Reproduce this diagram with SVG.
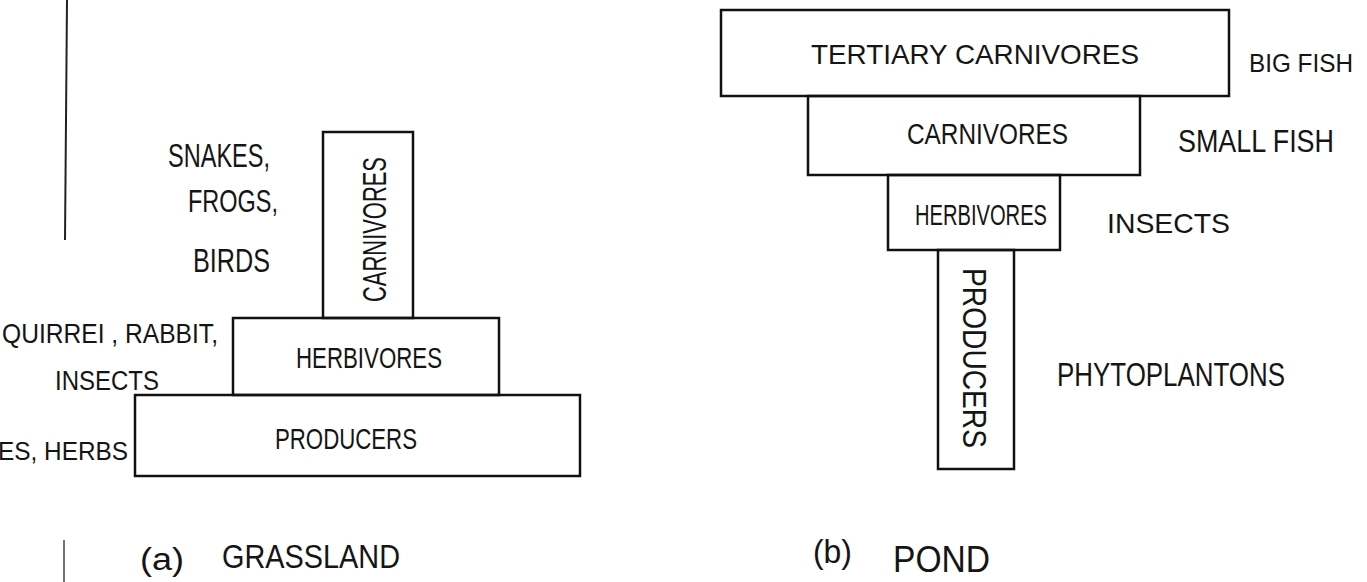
<svg xmlns="http://www.w3.org/2000/svg" width="1367" height="582" viewBox="0 0 1367 582">
<style>
.box{fill:none;stroke:#111;stroke-width:2.5;stroke-linejoin:miter}
.t{font-family:"Liberation Sans",Arial,sans-serif;fill:#151515;font-size:28px}
</style>
<rect width="1367" height="582" fill="#ffffff"/>
<g id="margin">
<line x1="67" y1="0" x2="65" y2="240" stroke="#222" stroke-width="2"/>
<line x1="64" y1="540" x2="64" y2="582" stroke="#444" stroke-width="1.5"/>
</g>
<g id="grass-carnivores">
<rect class="box" x="323" y="132" width="90" height="186"/>
<text class="t" style="font-size:34px" transform="translate(386,302) rotate(-90)" textLength="145" lengthAdjust="spacingAndGlyphs">CARNIVORES</text>
</g>
<g id="grass-herbivores">
<rect class="box" x="233" y="318" width="266" height="77"/>
<text class="t" style="font-size:30px" x="296" y="368" textLength="146" lengthAdjust="spacingAndGlyphs">HERBIVORES</text>
</g>
<g id="grass-producers">
<rect class="box" x="135" y="395" width="445" height="81"/>
<text class="t" style="font-size:30px" x="275" y="449" textLength="142" lengthAdjust="spacingAndGlyphs">PRODUCERS</text>
</g>
<g id="grass-labels">
<text class="t" style="font-size:33px" x="168" y="167" textLength="102" lengthAdjust="spacingAndGlyphs">SNAKES,</text>
<text class="t" style="font-size:31px" x="188" y="212" textLength="90" lengthAdjust="spacingAndGlyphs">FROGS,</text>
<text class="t" style="font-size:33px" x="193" y="272" textLength="77" lengthAdjust="spacingAndGlyphs">BIRDS</text>
<text class="t" x="2" y="343" textLength="216" lengthAdjust="spacingAndGlyphs">QUIRREI , RABBIT,</text>
<text class="t" style="font-size:27px" x="55" y="390" textLength="104" lengthAdjust="spacingAndGlyphs">INSECTS</text>
<text class="t" style="font-size:26px" x="-2" y="460" textLength="130" lengthAdjust="spacingAndGlyphs">ES, HERBS</text>
</g>
<g id="caption-a">
<text class="t" style="font-size:31px" x="140" y="570" textLength="44" lengthAdjust="spacingAndGlyphs">(a)</text>
<text class="t" style="font-size:33px" x="222" y="568" textLength="178" lengthAdjust="spacingAndGlyphs">GRASSLAND</text>
</g>
<g id="pond-tertiary">
<rect class="box" x="721" y="10" width="508" height="86"/>
<text class="t" x="811" y="64" textLength="328" lengthAdjust="spacingAndGlyphs">TERTIARY  CARNIVORES</text>
</g>
<g id="pond-carnivores">
<rect class="box" x="808" y="96" width="332" height="79"/>
<text class="t" style="font-size:29px" x="907" y="144" textLength="161" lengthAdjust="spacingAndGlyphs">CARNIVORES</text>
</g>
<g id="pond-herbivores">
<rect class="box" x="888" y="175" width="172" height="75"/>
<text class="t" style="font-size:29px" x="915" y="225" textLength="132" lengthAdjust="spacingAndGlyphs">HERBIVORES</text>
</g>
<g id="pond-producers">
<rect class="box" x="938" y="250" width="76" height="219"/>
<text class="t" style="font-size:33px" transform="translate(963,268) rotate(90)" textLength="180" lengthAdjust="spacingAndGlyphs">PRODUCERS</text>
</g>
<g id="pond-labels">
<text class="t" style="font-size:26px" x="1249" y="72" textLength="104" lengthAdjust="spacingAndGlyphs">BIG FISH</text>
<text class="t" style="font-size:31px" x="1178" y="152" textLength="156" lengthAdjust="spacingAndGlyphs">SMALL FISH</text>
<text class="t" x="1107" y="233" textLength="123" lengthAdjust="spacingAndGlyphs">INSECTS</text>
<text class="t" style="font-size:33px" x="1057" y="386" textLength="228" lengthAdjust="spacingAndGlyphs">PHYTOPLANTONS</text>
</g>
<g id="caption-b">
<text class="t" style="font-size:34px" x="813" y="563" textLength="39" lengthAdjust="spacingAndGlyphs">(b)</text>
<text class="t" style="font-size:37px" x="893" y="572" textLength="97" lengthAdjust="spacingAndGlyphs">POND</text>
</g>
<g id="connectors"></g>
</svg>
